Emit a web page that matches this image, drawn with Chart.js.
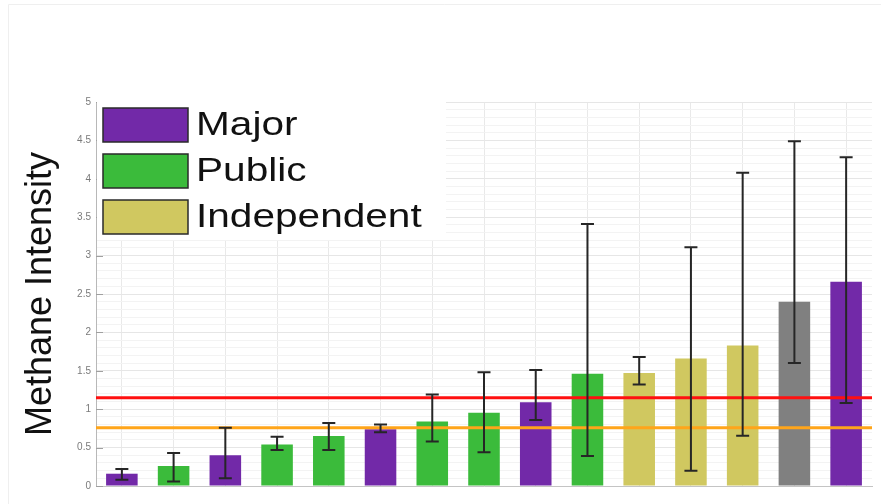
<!DOCTYPE html>
<html>
<head>
<meta charset="utf-8">
<script src="https://cdn.jsdelivr.net/npm/chart.js@4/dist/chart.umd.min.js"></script>
<style>
  html, body { margin: 0; padding: 0; background: #ffffff; }
  #wrap { width: 881px; height: 504px; position: relative; }
</style>
</head>
<body>
<div id="wrap"><canvas id="c" width="881" height="504"></canvas></div>
<script>
// ---- data ----
const categories = ['1','2','3','4','5','6','7','8','9','10','11','12','13','14','15'];
const groups = ['Major','Public','Major','Public','Public','Major','Public','Public','Major','Public','Independent','Independent','Independent','Other','Major'];
const intensity = [0.16, 0.26, 0.40, 0.54, 0.65, 0.74, 0.84, 0.955, 1.09, 1.46, 1.47, 1.66, 1.83, 2.40, 2.66];
const errLow  = [0.08, 0.06, 0.10, 0.47, 0.47, 0.70, 0.58, 0.44, 0.86, 0.39, 1.32, 0.20, 0.655, 1.60, 1.08];
const errHigh = [0.22, 0.43, 0.76, 0.64, 0.82, 0.80, 1.19, 1.48, 1.51, 3.41, 1.68, 3.11, 4.08, 4.49, 4.28];
const legendNames = ['Major', 'Public', 'Independent'];
const groupColors = { Major: '#7229a8', Public: '#3bbb3b', Independent: '#d0c860', Other: '#808080' };
const refLines = [ { value: 1.15, color: '#ff1010' }, { value: 0.76, color: '#ffa51a' } ];
const yTitle = 'Methane Intensity';

const barColors = groups.map(g => groupColors[g]);

const isMajor = v => Math.abs(Math.round(v * 10) % 5) === 0;

const framePlugin = {
  id: 'frame',
  beforeDraw(chart) {
    const ctx = chart.ctx;
    ctx.save();
    ctx.fillStyle = '#ffffff';
    ctx.fillRect(0, 0, chart.width, chart.height);
    ctx.strokeStyle = '#efefef';
    ctx.lineWidth = 1;
    ctx.beginPath();
    ctx.moveTo(8.5, chart.height);
    ctx.lineTo(8.5, 4.5);
    ctx.lineTo(chart.width, 4.5);
    ctx.stroke();
    ctx.restore();
  }
};

const overlayPlugin = {
  id: 'overlay',
  afterDatasetsDraw(chart) {
    const ctx = chart.ctx;
    const y = chart.scales.y;
    const area = chart.chartArea;
    // inward tick marks
    ctx.save();
    ctx.strokeStyle = '#a0a0a0';
    ctx.lineWidth = 1;
    y.ticks.forEach(t => {
      if (isMajor(t.value)) {
        const py = Math.round(y.getPixelForValue(t.value)) + 0.5;
        ctx.beginPath();
        ctx.moveTo(area.left, py);
        ctx.lineTo(area.left + 7, py);
        ctx.stroke();
      }
    });
    // reference lines
    refLines.forEach(r => {
      const py = y.getPixelForValue(r.value);
      ctx.strokeStyle = r.color;
      ctx.lineWidth = 3;
      ctx.beginPath();
      ctx.moveTo(area.left, py);
      ctx.lineTo(area.right, py);
      ctx.stroke();
    });
    // error bars
    const meta = chart.getDatasetMeta(0);
    ctx.strokeStyle = '#262626';
    ctx.lineWidth = 2;
    meta.data.forEach((bar, i) => {
      const x = bar.x;
      const yl = y.getPixelForValue(errLow[i]);
      const yh = y.getPixelForValue(errHigh[i]);
      const cap = 6.5;
      ctx.beginPath();
      ctx.moveTo(x, yl); ctx.lineTo(x, yh);
      ctx.moveTo(x - cap, yl); ctx.lineTo(x + cap, yl);
      ctx.moveTo(x - cap, yh); ctx.lineTo(x + cap, yh);
      ctx.stroke();
    });
    // legend
    const lx = area.left + 1, ly = area.top;
    ctx.fillStyle = '#ffffff';
    ctx.fillRect(lx, ly, 349, 138);
    legendNames.forEach((name, i) => {
      const by = ly + 6 + i * 46;
      ctx.fillStyle = groupColors[name];
      ctx.fillRect(lx + 6, by, 85, 34);
      ctx.strokeStyle = '#2a2a2a';
      ctx.lineWidth = 1.5;
      ctx.strokeRect(lx + 6, by, 85, 34);
      ctx.save();
      ctx.translate(lx + 99, by + 17);
      ctx.scale(1.23, 1);
      ctx.fillStyle = '#111111';
      ctx.font = '33px "Liberation Sans", Arial, sans-serif';
      ctx.textBaseline = 'middle';
      ctx.textAlign = 'left';
      ctx.fillText(name, 0, 1);
      ctx.restore();
    });
    ctx.restore();
  }
};

new Chart(document.getElementById('c'), {
  type: 'bar',
  data: {
    labels: categories,
    datasets: [{
      data: intensity,
      backgroundColor: barColors,
      borderWidth: 0,
      barPercentage: 0.61,
      categoryPercentage: 1.0
    }]
  },
  options: {
    responsive: false,
    devicePixelRatio: 1,
    animation: false,
    layout: { padding: { top: 102, right: 9, bottom: 18, left: 0 } },
    plugins: { legend: { display: false }, tooltip: { enabled: false } },
    scales: {
      x: {
        grid: { offset: false, color: '#e9e9e9', drawTicks: false },
        border: { color: '#c4c4c4', width: 1 },
        ticks: { display: false },
        afterFit(s) { s.height = 0; }
      },
      y: {
        min: 0, max: 5,
        afterFit(s) { s.width = 96; },
        border: { color: '#b8b8b8', width: 1 },
        grid: {
          drawTicks: false,
          color: ctx => (ctx.tick && isMajor(ctx.tick.value)) ? '#e6e6e6' : '#f3f3f3'
        },
        ticks: {
          stepSize: 0.1,
          autoSkip: false,
          maxTicksLimit: 100,
          padding: 5,
          color: '#7a7a7a',
          font: { size: 10, family: '"Liberation Sans", Arial, sans-serif' },
          callback: v => isMajor(v) ? String(Math.round(v * 10) / 10) : ''
        },
        title: {
          display: true,
          text: yTitle,
          color: '#111111',
          font: { size: 36, family: '"Liberation Sans", Arial, sans-serif' },
          padding: { top: 19, bottom: 0 }
        }
      }
    }
  },
  plugins: [framePlugin, overlayPlugin]
});
</script>
</body>
</html>
